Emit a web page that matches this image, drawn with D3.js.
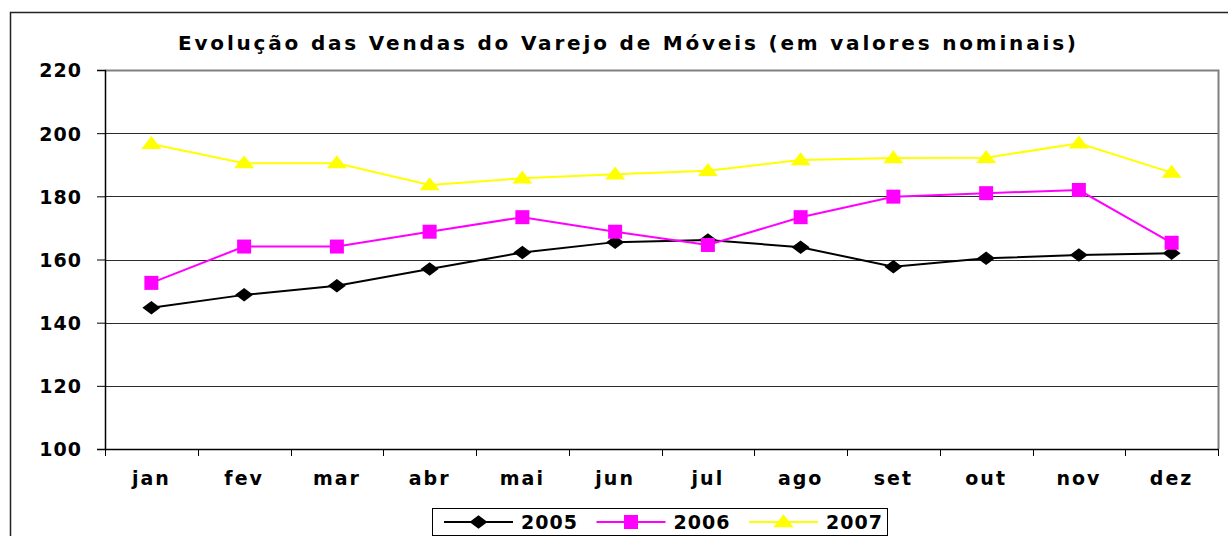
<!DOCTYPE html>
<html>
<head>
<meta charset="utf-8">
<script src="https://cdn.jsdelivr.net/npm/d3@7"></script>
<style>
  body { margin: 0; background: #fff; }
  svg text { font-family: "DejaVu Sans", "Liberation Sans", Arial, sans-serif; font-weight: bold; fill: #000; }
</style>
</head>
<body>
<div id="chart"></div>
<script>
const months = ['jan', 'fev', 'mar', 'abr', 'mai', 'jun', 'jul', 'ago', 'set', 'out', 'nov', 'dez'];
const yTicks = [100, 120, 140, 160, 180, 200, 220];
const v2005 = [144.7, 148.8, 151.7, 157.0, 162.2, 165.5, 166.2, 163.9, 157.7, 160.4, 161.4, 162.0];
const v2006 = [152.6, 164.1, 164.1, 168.8, 173.4, 168.8, 164.6, 173.4, 179.9, 181.0, 182.0, 165.3];
const v2007 = [196.6, 190.5, 190.5, 183.6, 185.7, 187.0, 188.1, 191.5, 192.1, 192.2, 196.8, 187.5];
const seriesNames = ['2005', '2006', '2007'];

// flattened marker shapes like the spreadsheet ones (size = half width)
const flatDiamond = {
  draw(ctx, r) {
    const h = r * 0.75;
    ctx.moveTo(-r, 0); ctx.lineTo(0, -h); ctx.lineTo(r, 0); ctx.lineTo(0, h); ctx.closePath();
  }
};
const flatTriangle = {
  draw(ctx, r) {
    const h = r * 1.3;
    ctx.moveTo(-r, h * 0.4); ctx.lineTo(0, -h * 0.6); ctx.lineTo(r, h * 0.4); ctx.closePath();
  }
};

const series = [
  { name: seriesNames[0], values: v2005, color: '#000000', symbol: flatDiamond, size: 9 },
  { name: seriesNames[1], values: v2006, color: '#FF00FF', symbol: d3.symbolSquare, size: 196 },
  { name: seriesNames[2], values: v2007, color: '#FFFF00', symbol: flatTriangle, size: 10 }
];

const W = 1228, H = 536;
const plot = { left: 105, right: 1218, top: 70, bottom: 449 };

const svg = d3.select('#chart').append('svg')
  .attr('width', W).attr('height', H);

// outer chart border
svg.append('rect')
  .attr('x', 10.5).attr('y', 12.5).attr('width', 1230).attr('height', 540)
  .attr('fill', '#fff').attr('stroke', '#222').attr('stroke-width', 1.5);

const x = d3.scaleBand().domain(months).range([plot.left, plot.right]);
const y = d3.scaleLinear().domain([100, 220]).range([plot.bottom, plot.top]);

// title
svg.append('text')
  .attr('x', 627).attr('y', 50)
  .attr('text-anchor', 'middle')
  .attr('font-size', 20)
  .attr('textLength', 898).attr('lengthAdjust', 'spacing')
  .text('Evolução das Vendas do Varejo de Móveis (em valores nominais)');

// gridlines
svg.append('g').selectAll('line')
  .data(yTicks.filter(t => t > 100 && t < 220)).join('line')
  .attr('x1', plot.left).attr('x2', plot.right)
  .attr('y1', d => Math.round(y(d)) + 0.5).attr('y2', d => Math.round(y(d)) + 0.5)
  .attr('stroke', '#2b2b2b').attr('stroke-width', 1);

// plot area border (top + right gray)
svg.append('path')
  .attr('d', `M${plot.left},${plot.top + 0.5}H${plot.right + 0.5}V${plot.bottom}`)
  .attr('fill', 'none').attr('stroke', '#808080').attr('stroke-width', 2);

// y axis
const yAxis = svg.append('g')
  .attr('transform', `translate(${plot.left},0)`)
  .call(d3.axisLeft(y).tickValues(yTicks).tickSize(8).tickPadding(15));
yAxis.select('.domain').attr('stroke', '#000').attr('stroke-width', 1.5);
yAxis.selectAll('.tick line').attr('stroke', '#000');
yAxis.selectAll('.tick text')
  .attr('font-size', 19).attr('font-family', '"DejaVu Sans", "Liberation Sans", Arial, sans-serif')
  .attr('font-weight', 'bold').attr('fill', '#000').attr('dy', '0.36em')
  .attr('letter-spacing', '1px');

// x axis
const xAxis = svg.append('g')
  .attr('transform', `translate(0,${plot.bottom})`)
  .call(d3.axisBottom(x).tickSize(0).tickPadding(0));
xAxis.select('.domain').attr('stroke', '#000').attr('stroke-width', 1.5);
xAxis.selectAll('.tick text')
  .attr('y', 36).attr('dy', 0)
  .attr('font-size', 19).attr('font-family', '"DejaVu Sans", "Liberation Sans", Arial, sans-serif')
  .attr('font-weight', 'bold').attr('fill', '#000')
  .attr('letter-spacing', '2px');
// category boundary ticks
const bounds = months.map(m => x(m)).concat([plot.right]);
xAxis.append('g').selectAll('line')
  .data(bounds).join('line')
  .attr('x1', d => Math.round(d) + 0.5).attr('x2', d => Math.round(d) + 0.5)
  .attr('y1', 0).attr('y2', 7)
  .attr('stroke', '#000').attr('stroke-width', 1);

// lines + markers
const line = d3.line()
  .x((d, i) => x(months[i]) + x.bandwidth() / 2)
  .y(d => y(d));

series.forEach(s => {
  svg.append('path')
    .datum(s.values)
    .attr('d', line)
    .attr('fill', 'none')
    .attr('stroke', s.color)
    .attr('stroke-width', 2);

  svg.append('g').selectAll('path')
    .data(s.values).join('path')
    .attr('transform', (d, i) => `translate(${x(months[i]) + x.bandwidth() / 2},${y(d)})`)
    .attr('d', d3.symbol().type(s.symbol).size(s.size))
    .attr('fill', s.color);
});

// legend
const legend = svg.append('g');
legend.append('rect')
  .attr('x', 432.5).attr('y', 508.5).attr('width', 455).attr('height', 27)
  .attr('fill', '#fff').attr('stroke', '#000').attr('stroke-width', 1);

const legendX = d3.scalePoint().domain(seriesNames).range([444, 749]);
series.forEach(s => {
  const lx = legendX(s.name);
  const g = legend.append('g').attr('transform', `translate(${lx},522)`);
  g.append('line').attr('x1', 0).attr('x2', 69).attr('y1', 0).attr('y2', 0)
    .attr('stroke', s.color).attr('stroke-width', 2);
  g.append('path')
    .attr('transform', 'translate(34.5,0)')
    .attr('d', d3.symbol().type(s.symbol).size(s.size))
    .attr('fill', s.color);
  g.append('text')
    .attr('x', 77).attr('y', 0).attr('dy', '0.36em')
    .attr('font-size', 19).attr('letter-spacing', '1px')
    .text(s.name);
});
</script>
</body>
</html>
